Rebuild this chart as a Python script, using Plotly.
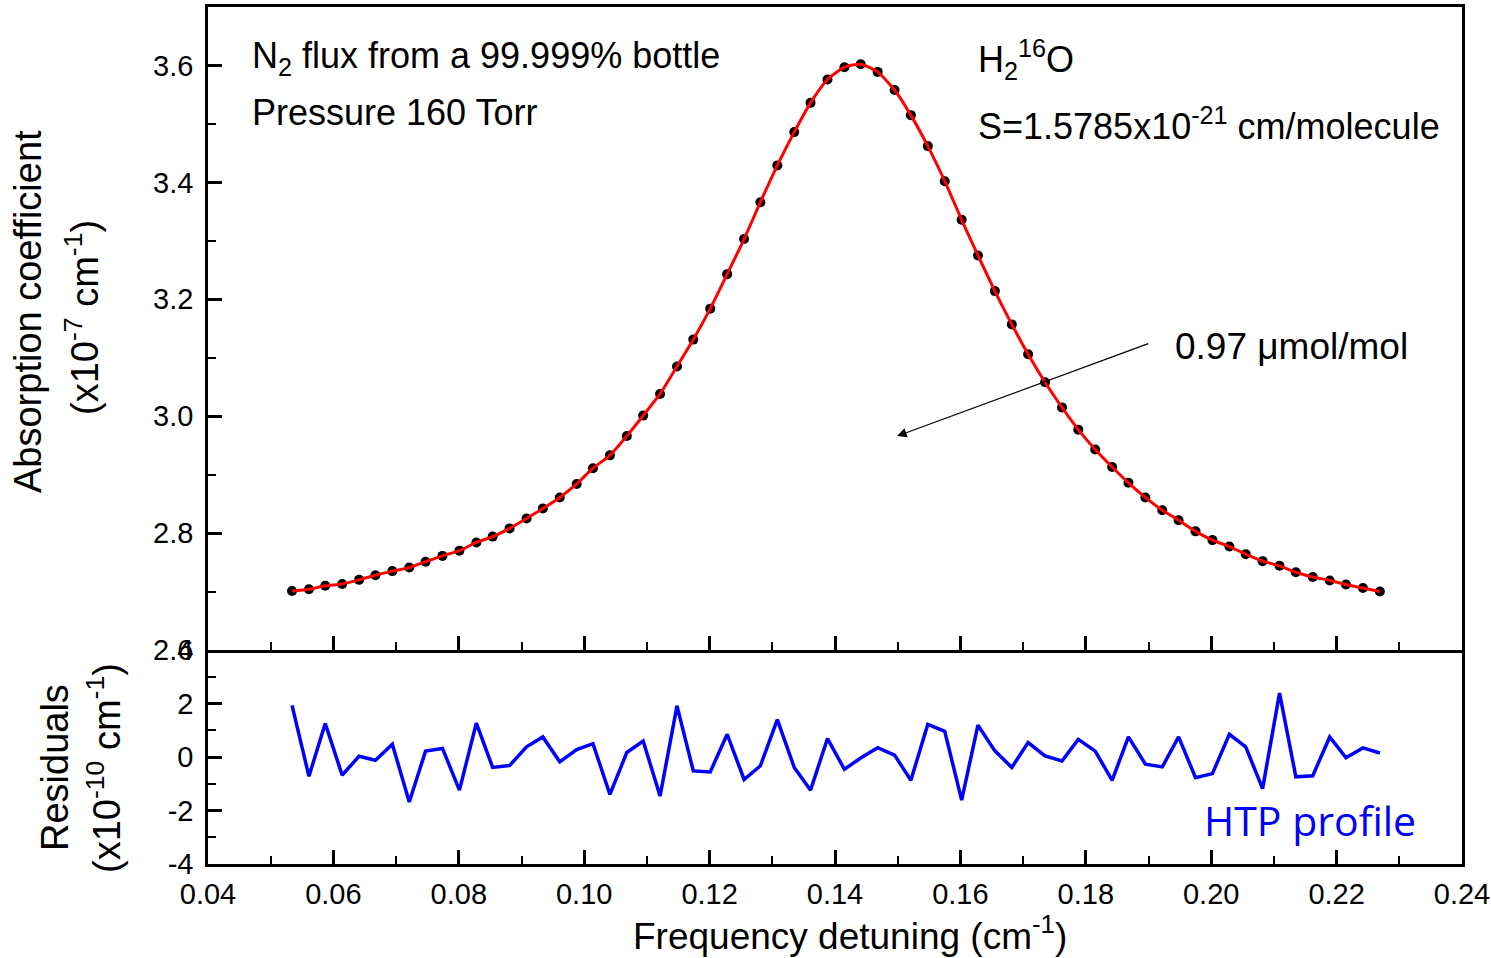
import plotly.graph_objects as go

W, H = 1491, 958

# Frequency detuning (cm^-1) of each sampled point
detuning = [0.0534, 0.0561, 0.0587, 0.0614, 0.0641, 0.0667, 0.0694, 0.0721, 0.0747, 0.0774,
            0.0801, 0.0828, 0.0854, 0.0881, 0.0908, 0.0934, 0.0961, 0.0988, 0.1014, 0.1041,
            0.1068, 0.1094, 0.1121, 0.1148, 0.1174, 0.1201, 0.1228, 0.1255, 0.1281, 0.1308,
            0.1335, 0.1361, 0.1388, 0.1415, 0.1441, 0.1468, 0.1495, 0.1521, 0.1548, 0.1575,
            0.1602, 0.1628, 0.1655, 0.1682, 0.1708, 0.1735, 0.1762, 0.1788, 0.1815, 0.1842,
            0.1868, 0.1895, 0.1922, 0.1948, 0.1975, 0.2002, 0.2029, 0.2055, 0.2082, 0.2109,
            0.2135, 0.2162, 0.2189, 0.2215, 0.2242, 0.2269]

# Measured absorption coefficient (x1e-7 cm^-1)
absorption = [2.701, 2.704, 2.710, 2.713, 2.720, 2.728, 2.735, 2.741, 2.751, 2.761,
              2.770, 2.784, 2.794, 2.808, 2.825, 2.842, 2.861, 2.884, 2.911, 2.933,
              2.966, 3.001, 3.038, 3.085, 3.131, 3.184, 3.243, 3.303, 3.366, 3.429,
              3.486, 3.536, 3.576, 3.597, 3.602, 3.589, 3.558, 3.515, 3.462, 3.402,
              3.336, 3.275, 3.214, 3.157, 3.106, 3.058, 3.015, 2.977, 2.943, 2.913,
              2.886, 2.861, 2.839, 2.822, 2.803, 2.788, 2.777, 2.764, 2.752, 2.744,
              2.733, 2.725, 2.719, 2.712, 2.706, 2.700]

# Fit residuals (x1e-10 cm^-1), HTP profile
residuals = [1.93, -0.72, 1.25, -0.68, 0.03, -0.12, 0.48, -1.68, 0.22, 0.32,
             -1.24, 1.27, -0.39, -0.32, 0.38, 0.75, -0.18, 0.28, 0.50, -1.40,
             0.17, 0.60, -1.46, 1.91, -0.52, -0.56, 0.85, -0.84, -0.33, 1.40,
             -0.39, -1.24, 0.69, -0.46, -0.04, 0.35, 0.07, -0.87, 1.22, 0.96,
             -1.61, 1.19, 0.23, -0.39, 0.54, 0.04, -0.15, 0.66, 0.22, -0.87,
             0.75, -0.27, -0.37, 0.75, -0.77, -0.62, 0.85, 0.38, -1.18, 2.39,
             -0.74, -0.70, 0.75, -0.03, 0.34, 0.15]

x_ticks = [0.04, 0.06, 0.08, 0.10, 0.12, 0.14, 0.16, 0.18, 0.20, 0.22, 0.24]
x_ticktext = ["0.04", "0.06", "0.08", "0.10", "0.12", "0.14", "0.16", "0.18", "0.20", "0.22", "0.24"]
abs_ticks = [2.6, 2.8, 3.0, 3.2, 3.4, 3.6]
abs_ticktext = ["2.6", "2.8", "3.0", "3.2", "3.4", "3.6"]
res_ticks = [-4, -2, 0, 2, 4]
res_ticktext = ["-4", "-2", "0", "2", "4"]

FONT = "Arial, 'Liberation Sans', sans-serif"
TICK_FONT = dict(family=FONT, size=29, color="black")


def px(x):
    return x / W


def py(y):
    return 1 - y / H


fig = go.Figure()

fig.add_trace(go.Scatter(
    x=detuning, y=absorption, mode="markers",
    marker=dict(color="black", size=10),
    xaxis="x", yaxis="y", showlegend=False, hoverinfo="skip"))

fig.add_trace(go.Scatter(
    x=detuning, y=absorption, mode="lines",
    line=dict(color="#ff0000", width=3, shape="spline", smoothing=0.6),
    xaxis="x", yaxis="y", showlegend=False))

fig.add_trace(go.Scatter(
    x=detuning, y=residuals, mode="lines",
    line=dict(color="#0000ff", width=3.5),
    xaxis="x2", yaxis="y2", showlegend=False))

axis_common = dict(
    showline=True, linecolor="black", linewidth=2.5, mirror=True,
    ticks="inside", ticklen=14, tickwidth=2.5, tickcolor="black",
    showgrid=False, zeroline=False, tickfont=TICK_FONT, automargin=False,
)
minor_common = dict(ticks="inside", ticklen=8, tickwidth=2, tickcolor="black", showgrid=False)

x_domain = [px(208), px(1462)]

fig.update_layout(
    width=W, height=H,
    margin=dict(l=0, r=0, t=0, b=0, autoexpand=False),
    paper_bgcolor="white", plot_bgcolor="white",
    xaxis=dict(
        axis_common, domain=x_domain, anchor="y", range=[0.04, 0.24],
        tickmode="array", tickvals=x_ticks, showticklabels=False,
        minor=dict(minor_common, tickmode="linear", tick0=0.05, dtick=0.02),
    ),
    yaxis=dict(
        axis_common, domain=[py(650), py(7)], anchor="x", range=[2.6, 3.7],
        tickmode="array", tickvals=abs_ticks, ticktext=abs_ticktext,
        ticklabelstandoff=6,
        minor=dict(minor_common, tickmode="linear", tick0=2.7, dtick=0.2),
    ),
    xaxis2=dict(
        axis_common, domain=x_domain, anchor="y2", range=[0.04, 0.24], matches="x",
        mirror=False,
        tickmode="array", tickvals=x_ticks, ticktext=x_ticktext,
        ticklabelstandoff=2,
        minor=dict(minor_common, tickmode="linear", tick0=0.05, dtick=0.02),
    ),
    yaxis2=dict(
        axis_common, domain=[py(864), py(650)], anchor="x2", range=[-4, 4],
        tickmode="array", tickvals=res_ticks, ticktext=res_ticktext,
        ticklabelstandoff=6,
        minor=dict(minor_common, tickmode="linear", tick0=-3, dtick=2),
    ),
)

TEXT_FONT = dict(family=FONT, size=36, color="black")
TITLE_FONT = dict(family=FONT, size=38, color="black")


def label(text, x, y, xanchor="left", angle=0, font=TEXT_FONT):
    fig.add_annotation(
        text=text, x=px(x), y=py(y), xref="paper", yref="paper",
        xanchor=xanchor, yanchor="middle", showarrow=False,
        textangle=angle, font=font,
    )


label("N<sub>2</sub> flux from a 99.999% bottle", 250, 58)
label("Pressure 160 Torr", 250, 113)
label("H<sub>2</sub><sup>16</sup>O", 976, 60)
label("S=1.5785x10<sup>-21</sup> cm/molecule", 976, 124)
label("0.97 \u03bcmol/mol", 1173, 346, font=dict(family=FONT, size=37, color="black"))
label("HTP profile", 1202, 820,
      font=dict(family="'Open Sans', 'Noto Sans', sans-serif", size=41, color="#0000ff"))

# axis titles
label("Absorption coefficient", 28, 312, xanchor="center", angle=-90, font=TITLE_FONT)
label("(x10<sup>-7</sup> cm<sup>-1</sup>)", 82, 318, xanchor="center", angle=-90, font=TITLE_FONT)
label("Residuals", 55, 768, xanchor="center", angle=-90, font=TITLE_FONT)
label("(x10<sup>-10</sup> cm<sup>-1</sup>)", 104, 768, xanchor="center", angle=-90, font=TITLE_FONT)
label("Frequency detuning (cm<sup>-1</sup>)", 850, 933, xanchor="center",
      font=dict(family=FONT, size=37, color="black"))

# arrow pointing at the fitted line
fig.add_annotation(
    x=0.1499, y=2.966, ax=0.1902, ay=3.125,
    xref="x", yref="y", axref="x", ayref="y",
    showarrow=True, arrowhead=2, arrowsize=1.6, arrowwidth=1.2,
    arrowcolor="black", text="",
)

fig.write_html("out.html")
